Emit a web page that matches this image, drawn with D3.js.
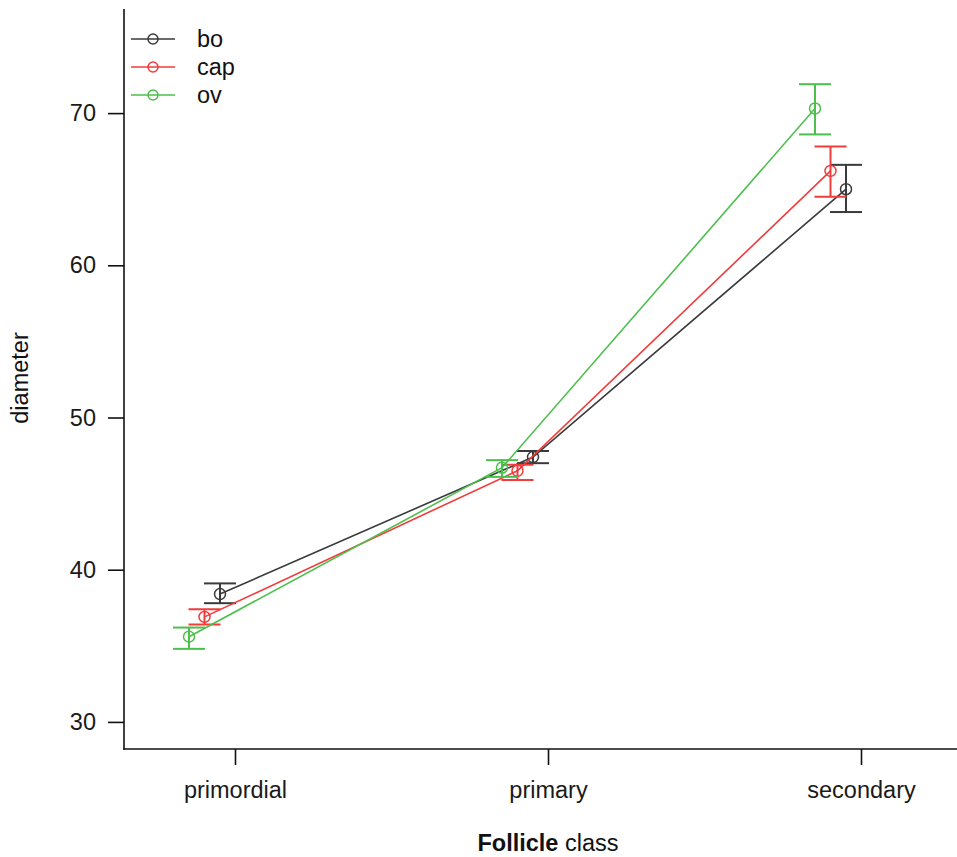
<!DOCTYPE html>
<html>
<head>
<meta charset="utf-8">
<script src="https://cdn.jsdelivr.net/npm/d3@7"></script>
<style>
  body { margin: 0; background: #fff; }
  svg { display: block; font-family: 'Liberation Sans', Arial, sans-serif; }
  .tick text { fill: #1a1a1a; }
</style>
</head>
<body>
<svg></svg>
<script>
var width = 957;
var height = 857;

// data
var classes = ['primordial', 'primary', 'secondary'];
var groups = ['bo', 'cap', 'ov'];
var colors = ['#3a3a3a', '#f23b3b', '#4cbf4c'];
var boMean = [38.4, 47.4, 65.0];
var boLow = [37.8, 47.0, 63.5];
var boHigh = [39.1, 47.8, 66.6];
var capMean = [36.9, 46.5, 66.2];
var capLow = [36.4, 45.9, 64.5];
var capHigh = [37.4, 46.9, 67.8];
var ovMean = [35.6, 46.7, 70.3];
var ovLow = [34.8, 46.1, 68.6];
var ovHigh = [36.2, 47.2, 71.9];
var yTicks = [30, 40, 50, 60, 70];

var series = [
  { name: 'bo', mean: boMean, low: boLow, high: boHigh },
  { name: 'cap', mean: capMean, low: capLow, high: capHigh },
  { name: 'ov', mean: ovMean, low: ovLow, high: ovHigh }
];

var svg = d3.select('svg')
      .attr('width', width)
      .attr('height', height);

var padLeft = 124, padBottom = 749, padTop = 9;
var fontSize = 23.5;

var xScale = d3.scalePoint()
       .domain(classes)
       .range([235, 861]);
// dodge of the groups, left of the tick
var dodge = d3.scalePoint()
       .domain(groups)
       .range([-15, -46]);
var yScale = d3.scaleLinear()
       .domain([28.22, 76.84])
       .range([padBottom, padTop]);
var color = d3.scaleOrdinal()
       .domain(groups)
       .range(colors);

// axes
var yAxis = d3.axisLeft(yScale)
       .tickValues(yTicks)
       .tickSize(16)
       .tickPadding(12)
       .tickSizeOuter(0);
var gy = svg.append('g')
    .attr('transform', `translate(${padLeft}, 0)`)
    .call(yAxis);
gy.select('.domain').remove();
gy.selectAll('.tick line').attr('stroke', '#111').attr('stroke-width', 1.6);
gy.selectAll('.tick text').attr('font-size', fontSize);

var xAxis = d3.axisBottom(xScale)
       .tickSize(16)
       .tickPadding(16)
       .tickSizeOuter(0);
var gx = svg.append('g')
    .attr('transform', `translate(0, ${padBottom})`)
    .call(xAxis);
gx.select('.domain').remove();
gx.selectAll('.tick line').attr('stroke', '#111').attr('stroke-width', 1.6);
gx.selectAll('.tick text').attr('font-size', fontSize);

svg.append('line')
  .attr('x1', padLeft).attr('x2', padLeft)
  .attr('y1', padTop).attr('y2', padBottom + 0.8)
  .attr('stroke', '#111').attr('stroke-width', 1.6);
svg.append('line')
  .attr('x1', padLeft - 0.8).attr('x2', width)
  .attr('y1', padBottom).attr('y2', padBottom)
  .attr('stroke', '#111').attr('stroke-width', 1.6);

// axis titles
var xt = svg.append('text')
    .attr('x', 548)
    .attr('y', 851)
    .attr('text-anchor', 'middle')
    .attr('font-size', fontSize)
    .attr('fill', '#111');
xt.append('tspan').attr('font-weight', 'bold').text('Follicle');
xt.append('tspan').text(' class');

svg.append('text')
  .attr('transform', 'rotate(-90)')
  .attr('x', -378)
  .attr('y', 28)
  .attr('text-anchor', 'middle')
  .attr('font-size', fontSize)
  .attr('fill', '#111')
  .text('diameter');

var px = (s, i) => xScale(classes[i]) + dodge(s.name);

var line = d3.line()
       .x(d => d.x)
       .y(d => d.y);

series.forEach(s => {
  var c = color(s.name);
  var g = svg.append('g');
  var pts = s.mean.map((m, i) => ({ x: px(s, i), y: yScale(m) }));

  g.append('path')
    .attr('d', line(pts))
    .attr('fill', 'none')
    .attr('stroke', c)
    .attr('stroke-width', 1.6);

  s.mean.forEach((m, i) => {
    var x = px(s, i);
    g.append('line')
      .attr('x1', x).attr('x2', x)
      .attr('y1', yScale(s.low[i])).attr('y2', yScale(s.high[i]))
      .attr('stroke', c).attr('stroke-width', 2);
    [s.low[i], s.high[i]].forEach(v => {
      g.append('line')
        .attr('x1', x - 16).attr('x2', x + 16)
        .attr('y1', yScale(v)).attr('y2', yScale(v))
        .attr('stroke', c).attr('stroke-width', 2);
    });
    g.append('circle')
      .attr('cx', x)
      .attr('cy', yScale(m))
      .attr('r', 5.5)
      .attr('fill', 'none')
      .attr('stroke', c)
      .attr('stroke-width', 1.5);
  });
});

// legend
var legend = svg.append('g')
    .selectAll('g')
    .data(groups)
    .enter()
    .append('g')
      .attr('transform', (d, i) => `translate(0, ${39 + i * 28})`);
legend.append('line')
  .attr('x1', 131).attr('x2', 175)
  .attr('stroke', d => color(d))
  .attr('stroke-width', 1.6);
legend.append('circle')
  .attr('cx', 153)
  .attr('r', 5)
  .attr('fill', 'none')
  .attr('stroke', d => color(d))
  .attr('stroke-width', 1.5);
legend.append('text')
  .attr('x', 197)
  .attr('dy', '0.35em')
  .attr('font-size', fontSize)
  .attr('fill', '#111')
  .text(d => d);
</script>
</body>
</html>
